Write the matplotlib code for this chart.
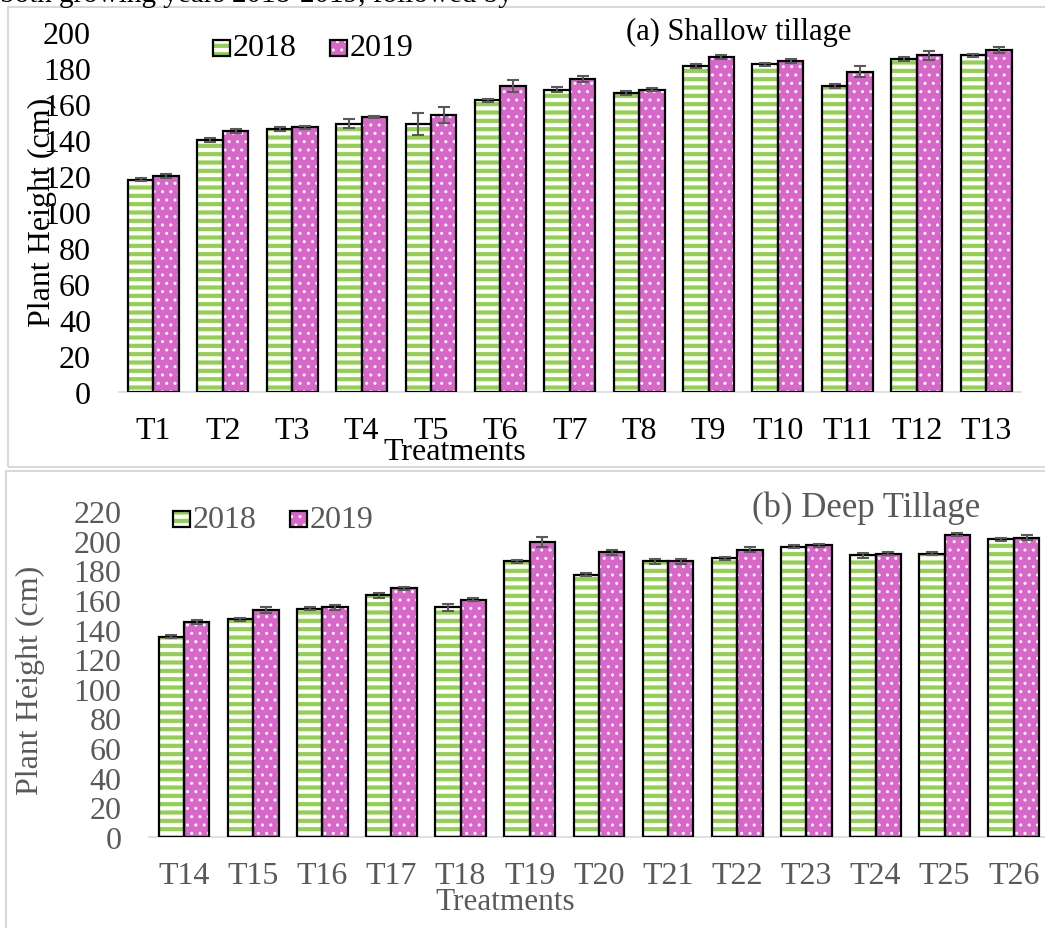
import matplotlib
matplotlib.use("Agg")
import matplotlib.pyplot as plt
import numpy as np
from matplotlib.patches import Rectangle

# ---- data ----
cats_a = ["T1", "T2", "T3", "T4", "T5", "T6", "T7", "T8", "T9", "T10", "T11", "T12", "T13"]
a_2018 = [118, 140, 146, 149, 149, 162, 168, 166, 181, 182, 170, 185, 187]
a_2018_err = [1, 1, 1, 2.5, 6, 1, 1.5, 1, 1, 1, 1, 1, 1]
a_2019 = [120, 145, 147, 153, 154, 170, 174, 168, 186, 184, 178, 187, 190]
a_2019_err = [1, 1, 1, 0.5, 4.5, 3.5, 1.5, 1, 1, 1, 3, 2.5, 1.5]

cats_b = ["T14", "T15", "T16", "T17", "T18", "T19", "T20", "T21", "T22", "T23", "T24", "T25", "T26"]
b_2018 = [135, 147, 154, 163, 155, 186, 177, 186, 188, 196, 190, 191, 201]
b_2018_err = [1, 1, 1, 1.5, 2.5, 1, 1, 1.5, 1, 1, 1.5, 1, 1]
b_2019 = [145, 153, 155, 168, 160, 199, 192, 186, 194, 197, 191, 204, 202]
b_2019_err = [1.5, 2, 1.5, 1, 1, 3.5, 2, 1.5, 2, 1, 1, 1, 1.5]

years = ["2018", "2019"]

GREEN = "#92D050"
PINK = "#D966C9"
ERR = "#595959"
FONT = "Liberation Serif"

W, H = 1045, 929
fig = plt.figure(figsize=(W / 100, H / 100), dpi=100)


def fx(px):
    return px / W


def fy(py):
    return 1 - py / H


def hatched_bars(ax, x, vals, width, face, hcolor, hatch, hlw):
    with plt.rc_context({"hatch.linewidth": hlw}):
        bars = ax.bar(x, vals, width, color=face, edgecolor=hcolor, hatch=hatch,
                      linewidth=0, zorder=2)
        for b in bars:
            if hasattr(b, "set_hatch_linewidth"):
                b.set_hatch_linewidth(hlw)
    ax.bar(x, vals, width, fill=False, edgecolor="black", linewidth=1.6, zorder=3)
    return bars


def panel(ax, cats, v18, e18, v19, e19, ymax, txtcolor, title, title_xy, title_size,
          legend_xy):
    x = np.arange(len(cats))
    w = 0.367
    hatched_bars(ax, x - w / 2, v18, w, "white", GREEN, "--", 3.0)
    hatched_bars(ax, x + w / 2, v19, w, PINK, "white", "..", 1.0)
    ax.errorbar(x - w / 2, v18, yerr=e18, fmt="none", ecolor=ERR, elinewidth=1.5,
                capsize=4.5, capthick=1.5, zorder=4)
    ax.errorbar(x + w / 2, v19, yerr=e19, fmt="none", ecolor=ERR, elinewidth=1.5,
                capsize=4.5, capthick=1.5, zorder=4)
    ax.set_xlim(-0.5, len(cats) - 0.5)
    ax.set_ylim(0, ymax)
    ax.set_yticks(np.arange(0, ymax + 1, 20))
    ax.set_xticks(x)
    ax.set_xticklabels(cats)
    ax.tick_params(length=0, labelsize=23, colors=txtcolor)
    ax.tick_params(axis="y", pad=20)
    ax.tick_params(axis="x", pad=17)
    for lab in ax.get_xticklabels() + ax.get_yticklabels():
        lab.set_fontfamily(FONT)
    for s in ["top", "right", "left"]:
        ax.spines[s].set_visible(False)
    ax.spines["bottom"].set_color("#D9D9D9")
    ax.spines["bottom"].set_linewidth(1.2)
    ax.patch.set_alpha(0)
    # legend (manual)
    lx, ly = legend_xy
    for i, (yr, face, hc, hatch, hlw) in enumerate(
            [(years[0], "white", GREEN, "--", 3.0), (years[1], PINK, "white", "..", 1.0)]):
        sx = lx + i * 117
        with plt.rc_context({"hatch.linewidth": hlw}):
            r = Rectangle((fx(sx), fy(ly + 8)), fx(17), 16 / H, transform=fig.transFigure,
                          facecolor=face, edgecolor=hc, hatch=hatch, linewidth=0)
            if hasattr(r, "set_hatch_linewidth"):
                r.set_hatch_linewidth(hlw)
        fig.patches.append(r)
        fig.patches.append(Rectangle((fx(sx), fy(ly + 8)), fx(17), 16 / H,
                                     transform=fig.transFigure, fill=False,
                                     edgecolor="black", linewidth=1.6))
        fig.text(fx(sx + 20), fy(ly), yr, fontsize=23, family=FONT, color=txtcolor,
                 va="center", ha="left")
    fig.text(fx(title_xy[0]), fy(title_xy[1]), title, fontsize=title_size, family=FONT,
             color=txtcolor, va="center", ha="left")


# panel borders
fig.patches.append(Rectangle((fx(7.5), fy(467.5)), fx(1060), 460 / H, transform=fig.transFigure,
                             fill=False, edgecolor="#D9D9D9", linewidth=1.5))
fig.patches.append(Rectangle((fx(5.5), fy(940)), fx(1060), 468 / H, transform=fig.transFigure,
                             fill=False, edgecolor="#D9D9D9", linewidth=1.5))

# clipped heading text at very top
fig.text(fx(0), fy(2), "both growing years 2018-2019, followed by", fontsize=21,
         family=FONT, color="black", va="baseline", ha="left")

# top panel
ax1 = fig.add_axes([fx(118.8), fy(393), fx(902), (393 - 33) / H])
panel(ax1, cats_a, a_2018, a_2018_err, a_2019, a_2019_err, 200, "black",
      "(a) Shallow tillage", (626, 32), 22, (213, 49))
fig.text(fx(42), fy(212), "Plant Height (cm)", rotation=90, fontsize=23, family=FONT,
         color="black", ha="center", va="center")
fig.text(fx(455), fy(452), "Treatments", fontsize=23, family=FONT, color="black",
         ha="center", va="center")

# bottom panel
ax2 = fig.add_axes([fx(149.4), fy(838), fx(899), (838 - 512) / H])
panel(ax2, cats_b, b_2018, b_2018_err, b_2019, b_2019_err, 220, "#595959",
      "(b) Deep Tillage", (752, 508), 25, (173, 520))
fig.text(fx(30), fy(680), "Plant Height (cm)", rotation=90, fontsize=23, family=FONT,
         color="#595959", ha="center", va="center")
fig.text(fx(505), fy(903), "Treatments", fontsize=22.5, family=FONT, color="#595959",
         ha="center", va="center")

fig.savefig("out.png", dpi=100)
